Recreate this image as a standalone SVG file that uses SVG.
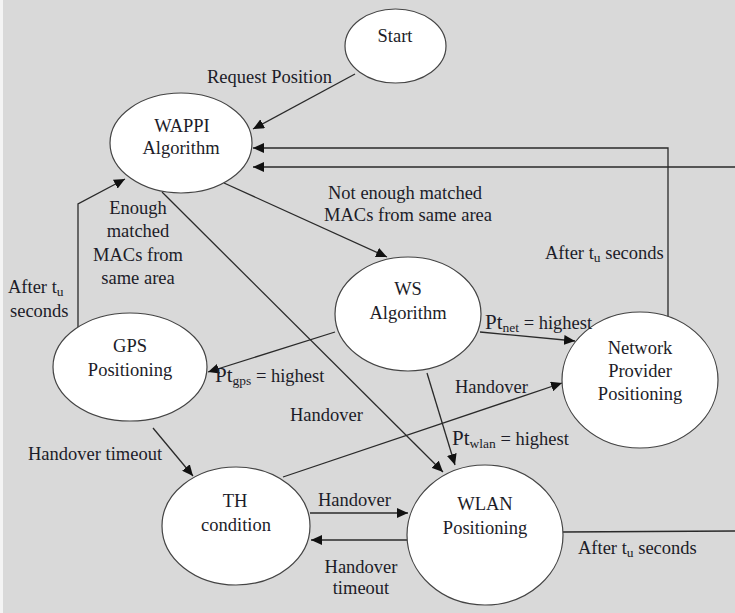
<svg xmlns="http://www.w3.org/2000/svg" width="735" height="613" viewBox="0 0 735 613">
<defs>
<marker id="arr" markerUnits="userSpaceOnUse" markerWidth="12" markerHeight="10" refX="11" refY="5" orient="auto">
<path d="M0,0 L11,5 L0,10 Z" fill="#111"/>
</marker>
<style>
.node ellipse{fill:#fff;stroke:#444;stroke-width:1.2}
text{font-size:18.5px;fill:#1c1c28}
.c{text-anchor:middle}
.conn path,.conn line{fill:none;stroke:#2a2a2a;stroke-width:1.3}
.a{marker-end:url(#arr)}
.sub{font-size:13.5px}
.pt{font-size:21px}
</style>
</defs>
<rect x="0" y="0" width="735" height="613" fill="#d9d9d9"/>
<rect x="0" y="0" width="3" height="613" fill="#f4f4f4"/>

<g id="connectors" class="conn">
<line class="a" x1="355" y1="74" x2="253" y2="129"/>
<path class="a" d="M668,318 L668,148 L253,148"/>
<path class="a" d="M563,532 L735,531 M735,167 L253,167"/>
<line class="a" x1="224" y1="183" x2="387" y2="257"/>
<line class="a" x1="162" y1="192" x2="443" y2="472"/>
<path class="a" d="M78,328 L78,204 L125,179"/>
<line class="a" x1="335" y1="332" x2="208" y2="372"/>
<line class="a" x1="480" y1="332" x2="575" y2="341"/>
<line class="a" x1="427" y1="373" x2="455" y2="465"/>
<line class="a" x1="283" y1="477" x2="562" y2="383"/>
<line class="a" x1="153" y1="428" x2="193" y2="476"/>
<line class="a" x1="310" y1="513" x2="408" y2="513"/>
<line class="a" x1="407" y1="540" x2="311" y2="540"/>
</g>

<g font-family="'Liberation Serif', 'DejaVu Serif', 'Times New Roman', serif">
<g id="start" class="node"><ellipse cx="395.5" cy="46" rx="50.5" ry="37"/><text class="c" x="395" y="42">Start</text></g>
<g id="wappi" class="node"><ellipse cx="181" cy="143" rx="71" ry="50"/><text class="c" x="182" y="132">WAPPI</text><text class="c" x="181" y="154">Algorithm</text></g>
<g id="ws" class="node"><ellipse cx="408" cy="314" rx="73" ry="57"/><text class="c" x="408" y="295">WS</text><text class="c" x="408" y="319">Algorithm</text></g>
<g id="gps" class="node"><ellipse cx="130" cy="367" rx="77" ry="54"/><text class="c" x="130" y="352">GPS</text><text class="c" x="130" y="376">Positioning</text></g>
<g id="network" class="node"><ellipse cx="640" cy="380" rx="78" ry="68"/><text class="c" x="640" y="354">Network</text><text class="c" x="640" y="377">Provider</text><text class="c" x="640" y="400">Positioning</text></g>
<g id="th" class="node"><ellipse cx="236" cy="526" rx="74" ry="59"/><text class="c" x="235" y="507">TH</text><text class="c" x="236" y="531">condition</text></g>
<g id="wlan" class="node"><ellipse cx="485" cy="535" rx="78" ry="70"/><text class="c" x="485" y="510">WLAN</text><text class="c" x="485" y="534">Positioning</text></g>

<g id="labels">
<text x="207" y="83">Request Position</text>
<text x="328" y="199">Not enough matched</text>
<text x="324" y="221">MACs from same area</text>
<text class="c" x="138" y="214">Enough</text>
<text class="c" x="138" y="237">matched</text>
<text class="c" x="138" y="261">MACs from</text>
<text class="c" x="138" y="284">same area</text>
<text x="8" y="293">After t<tspan class="sub" dy="3">u</tspan></text>
<text x="10" y="317">seconds</text>
<text x="545" y="259">After t<tspan class="sub" dy="3">u</tspan><tspan dy="-3"> seconds</tspan></text>
<text x="485" y="329"><tspan class="pt">Pt</tspan><tspan class="sub" dy="3">net</tspan><tspan dy="-3"> = highest</tspan></text>
<text x="215" y="382"><tspan class="pt">Pt</tspan><tspan class="sub" dy="3">gps</tspan><tspan dy="-3"> = highest</tspan></text>
<text x="290" y="421">Handover</text>
<text x="455" y="393">Handover</text>
<text x="452" y="445"><tspan class="pt">Pt</tspan><tspan class="sub" dy="3">wlan</tspan><tspan dy="-3"> = highest</tspan></text>
<text x="28" y="460">Handover timeout</text>
<text x="318" y="506">Handover</text>
<text class="c" x="361" y="573">Handover</text>
<text class="c" x="361" y="594">timeout</text>
<text x="578" y="554">After t<tspan class="sub" dy="3">u</tspan><tspan dy="-3"> seconds</tspan></text>
</g>
</g>
</svg>
